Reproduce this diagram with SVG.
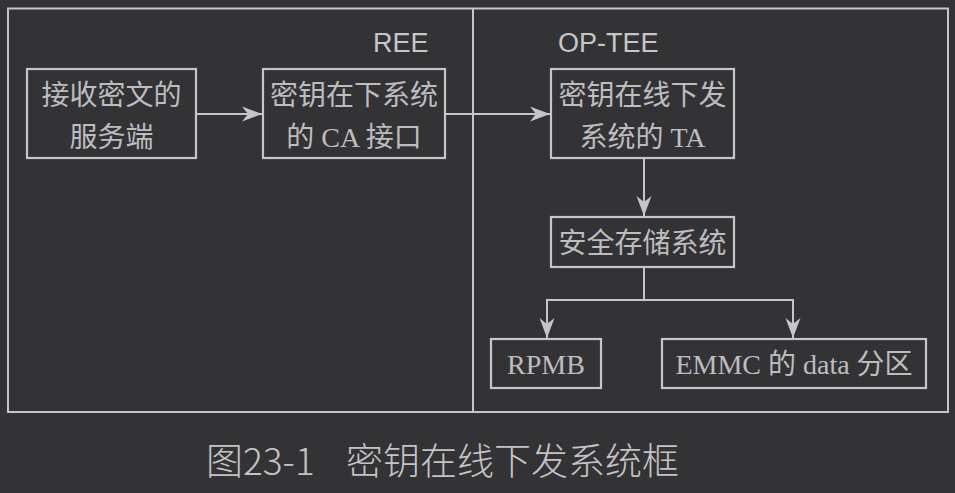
<svg xmlns="http://www.w3.org/2000/svg" width="955" height="493" viewBox="0 0 955 493">
<defs>
<style>
.frame{fill:none;stroke:#c6c6ca;stroke-width:2}
.box{fill:#333336;stroke:#c6c6ca;stroke-width:2.2}
.con{fill:none;stroke:#c6c6ca;stroke-width:2}
.t{font-family:"Liberation Serif","Noto Sans CJK SC",serif;font-size:28px;fill:#bdbdc0;text-anchor:middle}
.lbl{font-family:"Liberation Sans",Arial,sans-serif;font-size:27px;fill:#c6c6ca}
.cap{font-family:"Noto Sans CJK SC","Liberation Sans",sans-serif;font-size:37px;fill:#c4c4c6;font-weight:300}
</style>
<marker id="arr" viewBox="0 0 20 16" refX="20" refY="8" markerWidth="20" markerHeight="16" markerUnits="userSpaceOnUse" orient="auto">
<path d="M0,0.5 L20,8 L0,15.5 L6,8 Z" fill="#c6c6ca"/>
</marker>
</defs>
<rect width="955" height="493" fill="#333336"/>
<rect class="frame" x="8" y="8.5" width="940" height="403.5"/>
<line class="frame" x1="473" y1="8.5" x2="473" y2="412"/>
<text class="lbl" x="373" y="52">REE</text>
<text class="lbl" x="558" y="52">OP-TEE</text>
<g id="connectors">
<line class="con" x1="196" y1="114" x2="262" y2="114" marker-end="url(#arr)"/>
<line class="con" x1="445" y1="114" x2="550" y2="114" marker-end="url(#arr)"/>
<line class="con" x1="644" y1="158" x2="644" y2="216" marker-end="url(#arr)"/>
<polyline class="con" points="644,267 644,300 547,300 547,338" marker-end="url(#arr)"/>
<polyline class="con" points="644,300 793,300 793,338" marker-end="url(#arr)"/>
</g>
<g id="n1">
<rect class="box" x="27" y="69" width="169" height="89"/>
<text class="t" x="111.5" y="105">接收密文的</text>
<text class="t" x="111.5" y="147">服务端</text>
</g>
<g id="n2">
<rect class="box" x="263" y="69" width="182" height="89"/>
<text class="t" x="354" y="105">密钥在下系统</text>
<text class="t" x="354" y="147">的 CA 接口</text>
</g>
<g id="n3">
<rect class="box" x="551" y="69" width="183" height="89"/>
<text class="t" x="642.5" y="105">密钥在线下发</text>
<text class="t" x="642.5" y="147">系统的 TA</text>
</g>
<g id="n4">
<rect class="box" x="551" y="217" width="183" height="50"/>
<text class="t" x="642.5" y="253">安全存储系统</text>
</g>
<g id="n5">
<rect class="box" x="491" y="339" width="110" height="49"/>
<text class="t" x="546" y="374">RPMB</text>
</g>
<g id="n6">
<rect class="box" x="662" y="339" width="264" height="49"/>
<text class="t" x="794" y="374">EMMC 的 data 分区</text>
</g>
<text class="cap" x="206" y="475">图23-1<tspan x="346">密钥在线下发系统框</tspan></text>
</svg>
